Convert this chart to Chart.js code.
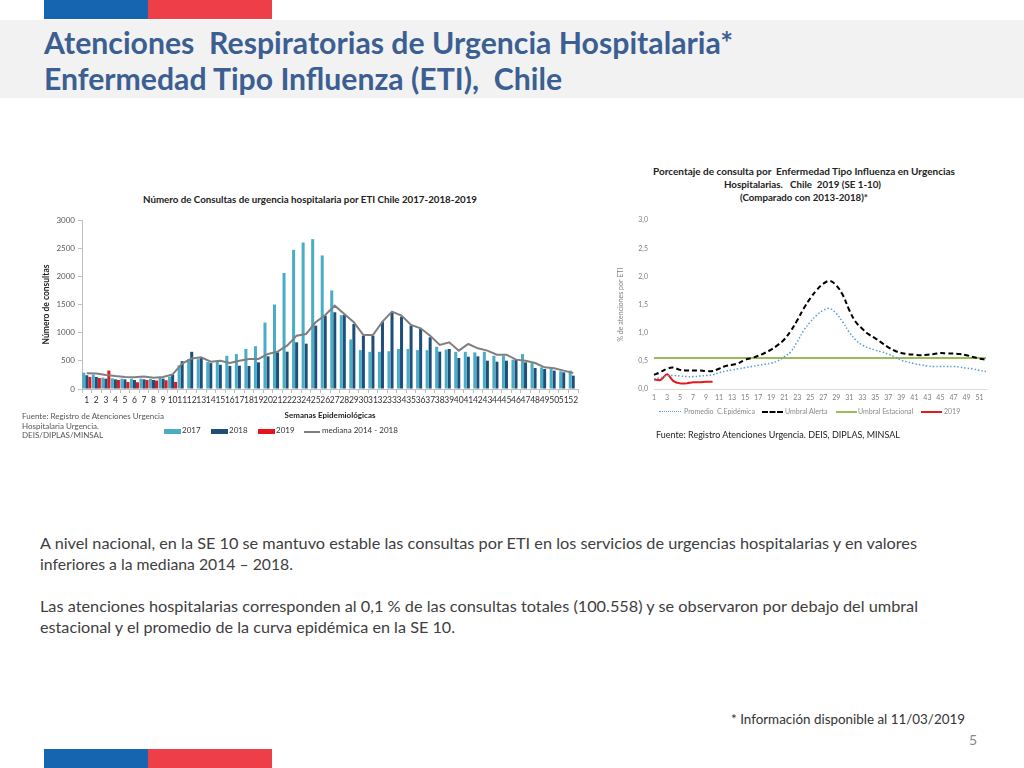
<!DOCTYPE html>
<html><head><meta charset="utf-8">
<script src="https://cdn.jsdelivr.net/npm/chart.js@4.4.1/dist/chart.umd.min.js"></script>
<style>
body{margin:0;width:1024px;height:768px;position:relative;overflow:hidden;background:#fff;font-family:Lato,'Open Sans',sans-serif;}
.abs{position:absolute;white-space:pre;line-height:1.2;}
.band{position:absolute;left:0;top:20px;width:1024px;height:78px;background:#f2f2f2;}
.bar{position:absolute;height:19px;}
.ttl{font-weight:700;color:#3c5f93;font-size:31px;}
.body{color:#404040;font-size:16px;}
.sw{position:absolute;}
.lg{font-size:8px;color:#333;}
.lgr{font-size:7px;color:#8a8a8a;}
canvas{position:absolute;}
</style></head><body>
<div class="bar" style="left:44px;top:0;width:104px;background:#1565b0"></div>
<div class="bar" style="left:148px;top:0;width:124px;background:#ee3e48"></div>
<div class="band"></div>
<div class="abs ttl" data-w="689" style="left:44px;top:24px">Atenciones  Respiratorias de Urgencia Hospitalaria*</div>
<div class="abs ttl" data-w="518" style="left:44px;top:60px">Enfermedad Tipo Influenza (ETI),  Chile</div>

<div class="abs" data-w="334" style="left:143px;top:195px;font-size:9px;font-weight:700;color:#222">Número de Consultas de urgencia hospitalaria por ETI Chile 2017-2018-2019</div>
<canvas id="cL" width="570" height="215" style="left:20px;top:210px;width:570px;height:215px"></canvas>
<div class="abs" style="left:22px;top:412px;font-size:8px;color:#555;line-height:9.5px">Fuente: Registro de Atenciones Urgencia
Hospitalaria Urgencia.
DEIS/DIPLAS/MINSAL</div>
<div class="sw" style="left:164px;top:429px;width:17px;height:5px;background:#4bacc6"></div>
<div class="abs lg" style="left:182px;top:426px">2017</div>
<div class="sw" style="left:211px;top:429px;width:17px;height:5px;background:#1f4e79"></div>
<div class="abs lg" style="left:229px;top:426px">2018</div>
<div class="sw" style="left:258px;top:429px;width:17px;height:5px;background:#e8141b"></div>
<div class="abs lg" style="left:276px;top:426px">2019</div>
<div class="sw" style="left:304px;top:431px;width:16px;height:2px;background:#7f7f7f"></div>
<div class="abs lg" style="left:322px;top:426px">mediana 2014 - 2018</div>

<div class="abs" data-w="302" style="left:653px;top:166px;font-size:9.5px;font-weight:700;color:#222">Porcentaje de consulta por  Enfermedad Tipo Influenza en Urgencias</div>
<div class="abs" data-w="157" style="left:724px;top:179px;font-size:9.5px;font-weight:700;color:#222">Hospitalarias.   Chile  2019 (SE 1-10)</div>
<div class="abs" data-w="128" style="left:740px;top:192px;font-size:9.5px;font-weight:700;color:#222">(Comparado con 2013-2018)*</div>
<canvas id="cR" width="385" height="200" style="left:612px;top:210px;width:385px;height:200px"></canvas>
<div class="sw" style="left:659px;top:411px;width:22px;height:0;border-top:1.5px dotted #5b9bd5"></div>
<div class="abs lgr" style="left:684px;top:407px">Promedio  C.Epidémica</div>
<div class="sw" style="left:762px;top:411px;width:21px;height:0;border-top:2px dashed #000"></div>
<div class="abs lgr" style="left:785px;top:407px">Umbral Alerta</div>
<div class="sw" style="left:836px;top:411px;width:21px;height:2px;background:#9bbb59"></div>
<div class="abs lgr" style="left:858px;top:407px">Umbral Estacional</div>
<div class="sw" style="left:921px;top:411px;width:21px;height:2px;background:#e31a1c"></div>
<div class="abs lgr" style="left:944px;top:407px">2019</div>
<div class="abs" data-w="244" style="left:656px;top:430px;font-size:9px;color:#222">Fuente: Registro Atenciones Urgencia. DEIS, DIPLAS, MINSAL</div>

<div class="abs body" data-w="877" style="left:40px;top:533px">A nivel nacional, en la SE 10 se mantuvo estable las consultas por ETI en los servicios de urgencias hospitalarias y en valores</div>
<div class="abs body" data-w="253" style="left:40px;top:554px">inferiores a la mediana 2014 – 2018.</div>
<div class="abs body" data-w="878" style="left:40px;top:596px">Las atenciones hospitalarias corresponden al 0,1 % de las consultas totales (100.558) y se observaron por debajo del umbral</div>
<div class="abs body" data-w="415" style="left:40px;top:617px">estacional y el promedio de la curva epidémica en la SE 10.</div>
<div class="abs" data-w="234" style="left:731px;top:711px;font-size:14px;color:#333">* Información disponible al 11/03/2019</div>
<div class="abs" style="left:969px;top:732px;font-size:14px;color:#888">5</div>
<div class="bar" style="left:44px;top:749px;width:104px;background:#1565b0"></div>
<div class="bar" style="left:148px;top:749px;width:124px;background:#ee3e48"></div>
<script>
const weeks = ['1','2','3','4','5','6','7','8','9','10','11','12','13','14','15','16','17','18','19','20','21','22','23','24','25','26','27','28','29','30','31','32','33','34','35','36','37','38','39','40','41','42','43','44','45','46','47','48','49','50','51','52'];
const yTicksLeft = [0,500,1000,1500,2000,2500,3000];
const v2017 = [290,256,202,190,184,184,184,180,196,220, 420,530,530,480,490,590,620,710,760,1180, 1500,2060,2470,2600,2660,2370,1750,1310,880,690, 660,660,670,710,710,690,690,750,700,660, 660,650,660,590,590,520,620,460,385,365, 315,325];
const v2018 = [244,214,184,172,172,160,172,160,184,256, 494,660,560,460,430,410,414,408,473,580, 651,663,829,805,1125,1302,1362,1314,1154,947, 947,1196,1362,1285,1125,1066,918,663,710,550, 574,580,503,485,503,521,473,373,355,326, 296,237];
const v2019 = [214,196,327,160,125,120,160,150,155,125];
const mediana = [280,275,250,230,215,210,220,200,215,260, 450,540,562,485,503,462,503,533,533,622, 663,770,947,977,1184,1314,1480,1332,1184,959, 959,1196,1373,1302,1137,1077,947,781,829,681, 799,722,681,610,610,521,503,462,385,367, 326,284];

const promedio = [0.18,0.20,0.23,0.24,0.23,0.22,0.22,0.23,0.24,0.25, 0.29,0.32,0.34,0.36,0.38,0.40,0.42,0.44,0.46,0.50, 0.57,0.66,0.84,1.04,1.19,1.31,1.40,1.43,1.34,1.19, 1.01,0.87,0.78,0.73,0.69,0.66,0.62,0.57,0.51,0.48, 0.45,0.43,0.41,0.40,0.40,0.40,0.40,0.39,0.37,0.36, 0.33,0.31];
const alerta = [0.25,0.30,0.36,0.38,0.34,0.33,0.33,0.33,0.32,0.32, 0.36,0.41,0.43,0.46,0.52,0.55,0.59,0.64,0.70,0.78, 0.88,1.03,1.22,1.43,1.61,1.76,1.87,1.92,1.84,1.67, 1.40,1.19,1.07,0.97,0.90,0.82,0.74,0.68,0.64,0.62, 0.61,0.60,0.61,0.62,0.64,0.63,0.63,0.62,0.60,0.57, 0.54,0.52];
const estacional = [0.55,0.55,0.55,0.55,0.55,0.55,0.55,0.55,0.55,0.55, 0.55,0.55,0.55,0.55,0.55,0.55,0.55,0.55,0.55,0.55, 0.55,0.55,0.55,0.55,0.55,0.55,0.55,0.55,0.55,0.55, 0.55,0.55,0.55,0.55,0.55,0.55,0.55,0.55,0.55,0.55, 0.55,0.55,0.55,0.55,0.55,0.55,0.55,0.55,0.55,0.55, 0.55,0.55];
const r2019 = [0.17,0.16,0.26,0.14,0.10,0.10,0.12,0.12,0.13,0.13];
const xTicksRight = ['1','3','5','7','9','11','13','15','17','19','21','23','25','27','29','31','33','35','37','39','41','43','45','47','49','51'];

document.querySelectorAll('[data-w]').forEach(el=>{
  const w=+el.dataset.w; const cur=el.getBoundingClientRect().width;
  el.style.transformOrigin='0 0'; el.style.transform='scaleX('+(w/cur)+')';
});

const FF = 'Lato, "Open Sans", sans-serif';
new Chart(document.getElementById('cL'), {
  type:'bar',
  data:{labels:weeks, datasets:[
    {type:'line', label:'mediana 2014 - 2018', data:mediana, borderColor:'#7f7f7f', borderWidth:2, pointRadius:0, tension:0, order:0},
    {label:'2017', data:v2017, backgroundColor:'#4bacc6', order:1},
    {label:'2018', data:v2018, backgroundColor:'#1f4e79', order:1},
    {label:'2019', data:v2019, backgroundColor:'#e8141b', order:1}
  ]},
  options:{
    responsive:false, animation:false,
    layout:{padding:{top:10,right:12,left:0,bottom:0}},
    plugins:{legend:{display:false}, tooltip:{enabled:false}},
    datasets:{bar:{categoryPercentage:0.95, barPercentage:1}},
    scales:{
      x:{grid:{display:true, drawOnChartArea:false, color:'#bfbfbf', tickLength:4},
         border:{color:'#bfbfbf'},
         ticks:{autoSkip:false, maxRotation:0, minRotation:0, padding:2, color:'#333', font:{size:8.5, family:FF}},
         title:{display:true, text:'Semanas Epidemiológicas', color:'#222', font:{size:8, weight:'bold', family:FF}, padding:{top:0,bottom:5}},
         afterFit(s){s.height=36;}},
      y:{min:0, max:3000,
         afterBuildTicks(s){s.ticks = yTicksLeft.map(v=>({value:v}));},
         grid:{display:true, drawOnChartArea:false, color:'#bfbfbf', tickLength:4},
         border:{color:'#bfbfbf'},
         ticks:{padding:3, color:'#595959', font:{size:8, family:FF}, callback:v=>String(v)},
         title:{display:true, text:'Número de consultas', color:'#222', font:{size:8.5, weight:'bold', family:FF}, padding:{top:21,bottom:0}},
         afterFit(s){s.width=62;}}
    }
  }
});

new Chart(document.getElementById('cR'), {
  type:'line',
  data:{labels:weeks, datasets:[
    {label:'Promedio  C.Epidémica', data:promedio, borderColor:'#5b9bd5', borderDash:[1.5,2], borderWidth:1.5, pointRadius:0, tension:0.4},
    {label:'Umbral Alerta', data:alerta, borderColor:'#000000', borderDash:[5,3], borderWidth:2, pointRadius:0, tension:0.4},
    {label:'Umbral Estacional', data:estacional, borderColor:'#9bbb59', borderWidth:2, pointRadius:0, tension:0},
    {label:'2019', data:r2019, borderColor:'#e31a1c', borderWidth:2, pointRadius:0, tension:0.3}
  ]},
  options:{
    responsive:false, animation:false,
    layout:{padding:{top:10,right:11,left:0,bottom:0}},
    plugins:{legend:{display:false}, tooltip:{enabled:false}},
    scales:{
      x:{offset:false, grid:{display:false, drawTicks:false, tickLength:0}, border:{display:true, color:'#d9d9d9'},
         ticks:{autoSkip:false, maxRotation:0, minRotation:0, padding:5, color:'#7f7f7f', font:{size:7, family:FF},
                callback:(v,i)=> (i%2===0 ? xTicksRight[i/2] : '')},
         afterFit(s){s.height=21;}},
      y:{min:0, max:3, grid:{display:false, drawTicks:false, tickLength:0}, border:{display:false},
         ticks:{stepSize:0.5, padding:6, color:'#7f7f7f', font:{size:7, family:FF}, callback:v=>v.toFixed(1).replace('.',',')},
         title:{display:true, text:'% de atenciones por ETI', color:'#7f7f7f', font:{size:7, family:FF}, padding:{top:5,bottom:0}},
         afterFit(s){s.width=42;}}
    }
  }
});
</script>
</body></html>
